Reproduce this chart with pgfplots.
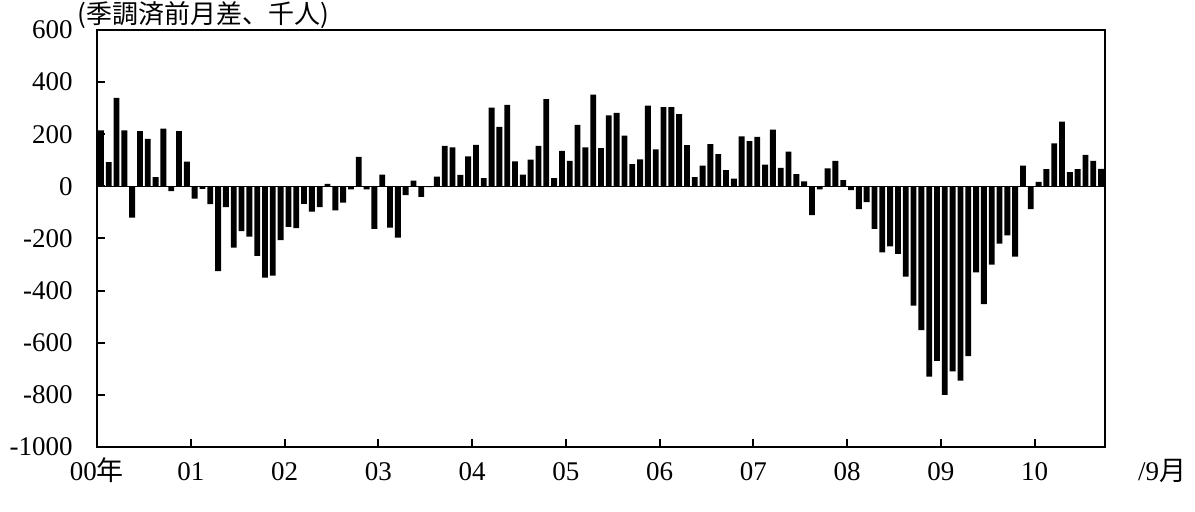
\documentclass[border=0pt]{standalone}
\usepackage{pgfplots}
\pgfplotsset{compat=1.18}
\usepackage{pgfplotstable}
\usepackage{fontspec}
\setmainfont{Liberation Serif}
\newfontfamily\cjk{Noto Sans CJK JP}

% monthly values, 2000/01 .. 2010/09
\pgfplotstableread{
v
215
93
340
215
-120
212
182
35
222
-18
212
95
-47
-10
-68
-325
-80
-235
-172
-193
-267
-350
-342
-206
-155
-160
-67
-97
-80
10
-92
-62
-12
113
-12
-163
45
-158
-197
-34
22
-40
-3
37
155
150
44
115
159
32
302
228
313
96
45
103
155
335
32
136
98
236
150
352
147
272
282
195
85
104
310
142
304
304
277
158
35
80
162
124
62
30
192
174
190
83
218
71
133
47
19
-110
-12
69
98
24
-14
-87
-60
-163
-253
-230
-259
-346
-458
-552
-730
-670
-800
-710
-745
-651
-330
-452
-300
-220
-188
-270
80
-87
17
66
165
248
55
66
121
98
67
}\diffdata

\begin{document}
\begin{tikzpicture}
\begin{axis}[
  scale only axis,
  width=504pt, height=208.5pt,
  xmin=0, xmax=129,
  ymin=-1000, ymax=600,
  ytick={-1000,-800,...,600},
  xtick={0,12,...,120},
  xticklabels={00\cjk{年},01,02,03,04,05,06,07,08,09,10},
  axis line style={line width=1.3pt},
  tick style={black, line width=1pt},
  tick align=inside,
  xtick pos=bottom, ytick pos=left,
  major tick length=4pt,
  font=\fontsize{13.5}{16}\selectfont,
  /pgf/number format/assume math mode=true,
  /pgf/number format/1000 sep={},
  yticklabel style={anchor=east, inner sep=0pt, xshift=-12pt},
  xticklabel style={anchor=base, inner sep=0pt, yshift=-17pt},
]
\addplot[ybar, bar width=0.75, fill=black, draw=none]
  table[x expr=\coordindex+0.5, y=v] {\diffdata};
\addplot[black, line width=0.8pt] coordinates {(0,0) (129,0)};
\end{axis}
\node[anchor=base west, inner sep=0pt, font=\cjk\fontsize{13}{15}\selectfont]
  at ([xshift=-10pt,yshift=3pt]current axis.north west) {(季調済前月差、千人)};
\node[anchor=base, inner sep=0pt, font=\fontsize{13.5}{16}\selectfont]
  at ([xshift=28.5pt,yshift=-17pt]current axis.south east) {/9\cjk{月}};
\pgfresetboundingbox
\path[use as bounding box] ([xshift=-48.5pt,yshift=-32.5pt]current axis.south west)
  rectangle ([xshift=45pt,yshift=15pt]current axis.north east);
\end{tikzpicture}
\end{document}
